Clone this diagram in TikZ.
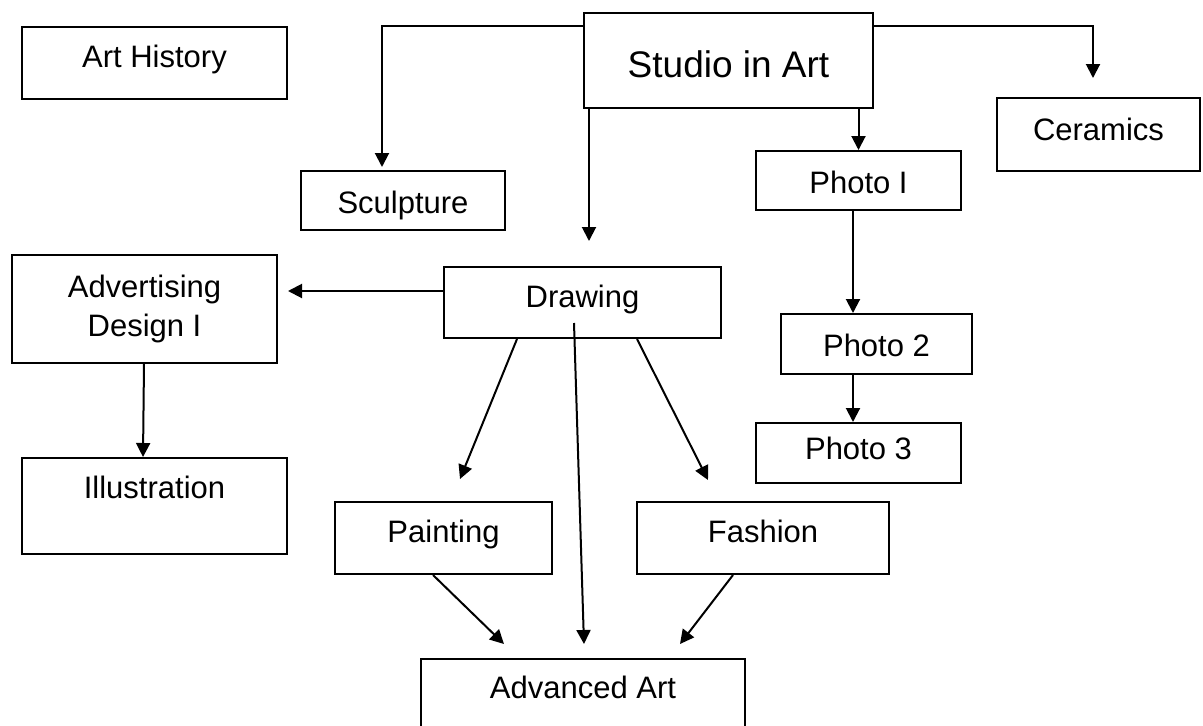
\documentclass[tikz,border=0pt]{standalone}
\usepackage{fontspec}
\setmainfont{Liberation Sans}
\usetikzlibrary{arrows.meta}
\usetikzlibrary{positioning}
\usetikzlibrary{calc}
\tikzstyle{block} = [draw, rectangle, line width = 2pt, inner sep = 0pt, align = center, font = \fontsize{31}{39}\selectfont]
\tikzstyle{arrow} = [line width = 2pt, -{Triangle[length = 14pt, width = 14pt]}]
\tikzset{txt/.style = {text height = 22pt, text depth = #1}}

\begin{document}
\begin{tikzpicture}[x = 1pt, y = -1pt]

		\useasboundingbox (0,0) rectangle (1203,726);
		\clip (0,0) rectangle (1203,726);

		% Top row
		\node[block, minimum width = 265pt, minimum height = 72pt, txt = 14pt] (arthist) at (154.5,63) {Art History};
		\node[block, font = \fontsize{37}{44}\selectfont, minimum width = 289pt, minimum height = 95pt, text height = 34pt, text depth = 0pt] (studio) at (728.5,60.5) {Studio in Art};
		\coordinate (lstudio) at ($(studio.north west) + (0,14)$);
		\coordinate (rstudio) at ($(studio.north east) + (0,14)$);
		\node[block, minimum width = 203pt, minimum height = 73pt, txt = 11pt] (ceram) at (1098.5,134.5) {Ceramics};
		\coordinate (tceram) at ($(ceram.north) + (-5.5,-19)$);

		% Sculpture
		\node[block, minimum width = 204pt, minimum height = 59pt, text height = 25pt, text depth = 0pt] (sculpt) at (403,200.5) {Sculpture};
		\coordinate (tsculpt) at ($(sculpt.north) + (-21,-3)$);

		% Photo column
		\node[block, minimum width = 205pt, minimum height = 59pt, text height = 25pt, text depth = 0pt] (photoI) at (858.5,180.5) {Photo I};
		\node[block, minimum width = 191pt, minimum height = 60pt, text height = 24pt, text depth = 0pt] (photoII) at (876.5,344) {Photo 2};
		\node[block, minimum width = 205pt, minimum height = 60pt, txt = 10pt] (photoIII) at (858.5,453) {Photo 3};
		\coordinate (bphotoI) at ($(photoI.south) + (-5.5,0)$);

		% Drawing and the left column
		\node[block, minimum width = 277pt, minimum height = 71pt, txt = 13pt] (drawing) at (582.5,302.5) {Drawing};
		\coordinate (tdraw) at ($(drawing.north) + (6.5,-25)$);
		\coordinate (ldraw) at ($(drawing.west) + (0,-11.5)$);
		\node[block, minimum width = 265pt, minimum height = 108pt] (advert) at (144.5,309) {Advertising\\Design I};
		\node[block, minimum width = 265pt, minimum height = 96pt, txt = 37pt] (illus) at (154.5,506) {Illustration};

		% Painting, Fashion, Advanced Art
		\node[block, minimum width = 217pt, minimum height = 72pt, txt = 13pt] (paint) at (443.5,538) {Painting};
		\node[block, minimum width = 252pt, minimum height = 72pt, txt = 13pt] (fashion) at (763,538) {Fashion};
		\node[block, minimum width = 324pt, minimum height = 86pt, txt = 29pt] (adv) at (583,702) {Advanced Art};

		% Connect all nodes defined above
		\draw[arrow] (lstudio) -| (tsculpt);
		\draw[arrow] (rstudio) -| (tceram);
		\draw[arrow] (tdraw |- studio.south) -- (tdraw);
		\draw[arrow] (photoI.north |- studio.south) -- (photoI.north);
		\draw[arrow] (bphotoI) -- (bphotoI |- photoII.north);
		\draw[arrow] (bphotoI |- photoII.south) -- (bphotoI |- photoIII.north);
		\draw[arrow] (ldraw) -- ($(ldraw -| advert.east) + (10,0)$);
		\draw[arrow] ($(advert.south) + (-0.5,0)$) -- ($(advert.south |- illus.north) + (-1.5,0)$);
		\draw[arrow] ($(drawing.south) + (-65.5,0)$) -- ($(paint.north) + (16.5,-22)$);
		\draw[arrow] ($(drawing.south) + (54.5,0)$) -- ($(fashion.north) + (-55,-21)$);
		\draw[arrow] ($(drawing.center) + (-8.5,20.5)$) -- ($(adv.north) + (1,-14)$);
		\draw[arrow] ($(paint.south) + (-10.5,0)$) -- ($(adv.north) + (-79,-14)$);
		\draw[arrow] ($(fashion.south) + (-30,0)$) -- ($(adv.north) + (97,-14)$);

	\end{tikzpicture}
\end{document}
